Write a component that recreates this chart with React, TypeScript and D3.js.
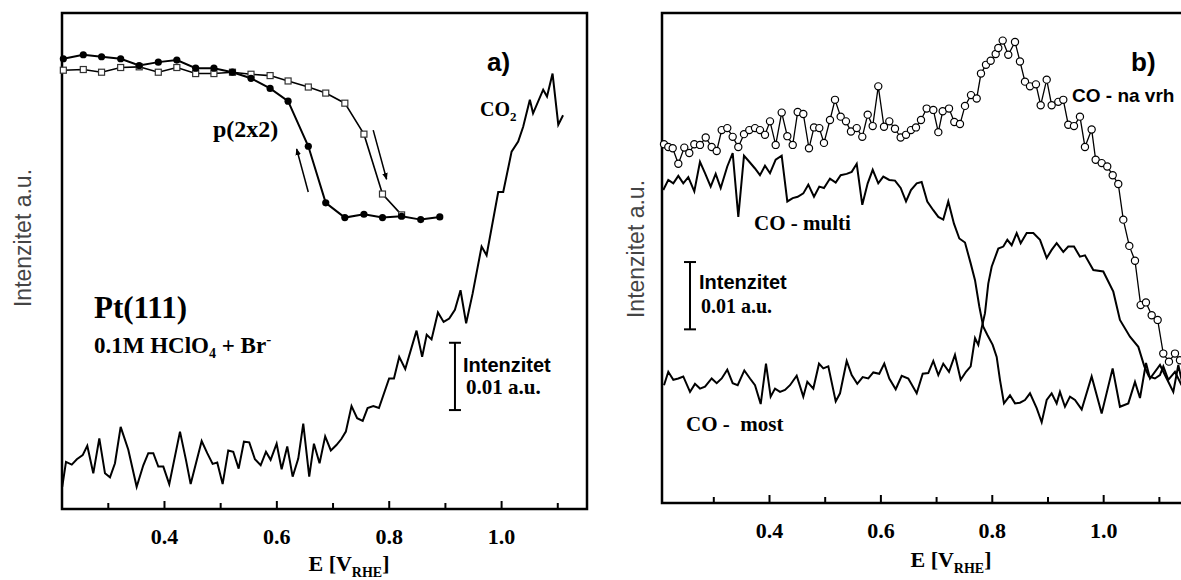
import React from "react";
import * as d3 from "d3";

// ---------- Panel a: CO2 signal ----------
const co2E = [0.218,0.2247,0.235,0.244,0.2544,0.2626,0.2733,0.284,0.2941,0.303,0.3119,0.322,0.3356,0.3505,0.3623,0.3712,0.3801,0.389,0.3979,0.4085,0.4276,0.4382,0.4466,0.4662,0.4761,0.4857,0.4939,0.5035,0.5135,0.5224,0.532,0.5414,0.5509,0.561,0.5712,0.5806,0.5889,0.5996,0.6085,0.6185,0.6281,0.6381,0.647,0.6576,0.666,0.676,0.686,0.6961,0.706,0.7148,0.7228,0.7329,0.7429,0.7528,0.7615,0.7717,0.7817,0.7998,0.8084,0.8178,0.8285,0.8486,0.8586,0.8667,0.8753,0.8867,0.8968,0.9068,0.9169,0.9269,0.9369,0.9484,0.9644,0.9733,0.994,1.0029,1.0178,1.0295,1.0384,1.0503,1.056,1.074,1.0808,1.0907,1.1009,1.1094];
const co2V = [3.3,7.0,6.6,7.4,8.0,9.4,5.3,10.5,5.3,4.7,6.8,12.2,8.8,3.3,6.5,8.3,8.3,6.3,6.3,3.7,11.5,7.3,3.7,10.1,8.3,6.7,6.9,3.7,8.7,8.5,6.0,10.0,9.9,7.4,6.5,8.5,7.3,9.7,5.9,9.3,4.8,7.5,12.7,4.8,9.7,6.8,10.8,8.7,9.5,10.4,11.5,15.3,13.5,13.1,15.0,15.3,15.0,19.4,19.4,22.6,20.8,26.5,22.6,25.9,25.2,29.2,27.8,28.3,29.6,32.5,27.6,32.0,39.0,37.7,47.1,47.1,53.1,54.6,56.8,60.8,58.8,62.3,61.3,64.7,57.1,58.5];

// inset p(2x2) hysteresis
const insetE = [0.220,0.2555,0.288,0.322,0.355,0.389,0.422,0.4555,0.488,0.521,0.554,0.588,0.620,0.656,0.687,0.721,0.755,0.788,0.822,0.856,0.890];
const filledV = [66.9,67.5,67.2,66.9,65.9,66.4,66.7,65.5,65.5,64.9,64.0,62.5,60.6,53.9,45.5,43.3,43.8,43.3,43.5,43.0,43.4];
const openV = [65.2,65.3,64.9,65.6,65.7,64.9,65.6,64.7,64.7,64.9,64.6,64.4,63.6,62.7,61.8,60.3,55.7,46.8,43.7];

// ---------- Panel b ----------
const vrhE = [0.2106,0.2183,0.2262,0.2363,0.247,0.256,0.265,0.2752,0.2855,0.2962,0.3052,0.3142,0.3242,0.3339,0.344,0.3542,0.3637,0.374,0.3829,0.3919,0.4009,0.4111,0.4219,0.432,0.4417,0.4506,0.4607,0.4709,0.4799,0.4894,0.4978,0.5086,0.5176,0.5278,0.5373,0.5463,0.5566,0.5666,0.5763,0.5853,0.5953,0.6056,0.6151,0.6253,0.6355,0.6451,0.654,0.663,0.672,0.6822,0.6941,0.7031,0.711,0.7223,0.7318,0.742,0.751,0.7618,0.772,0.7797,0.7887,0.7971,0.8061,0.8108,0.8187,0.8287,0.8408,0.8497,0.8587,0.8677,0.8784,0.8869,0.8977,0.9066,0.9185,0.9275,0.9364,0.9467,0.9574,0.9664,0.9784,0.9856,0.9964,1.0064,1.0162,1.0262,1.0352,1.046,1.0562,1.0664,1.0759,1.0862,1.0969,1.107,1.1172,1.128,1.137];
const vrhV = [53.3,52.9,52.7,50.4,52.8,52.0,53.3,53.2,54.3,52.9,52.3,55.4,55.7,54.4,52.9,54.8,55.4,55.7,55.4,54.7,56.7,53.2,58.0,54.5,53.2,58.1,57.8,52.7,55.8,55.7,53.5,56.9,59.9,57.4,56.7,55.2,55.7,54.4,57.7,56.0,61.9,55.9,56.7,55.6,54.3,54.7,55.4,55.8,56.9,58.6,58.4,55.1,58.2,58.6,56.6,56.3,59.0,60.6,60.1,63.8,65.1,65.7,66.7,67.6,68.7,66.6,68.5,65.6,62.6,61.9,62.2,59.1,62.9,59.1,59.6,59.9,56.2,56.0,57.4,52.9,55.5,51.0,50.5,50.0,48.7,47.4,42.1,38.2,36.0,29.4,29.8,27.9,27.2,22.2,21.0,22.2,21.2];

const multiE = [0.2093,0.2183,0.2273,0.2363,0.2452,0.2542,0.265,0.2752,0.2842,0.2944,0.3034,0.3124,0.3242,0.3339,0.344,0.3542,0.3637,0.374,0.3829,0.3919,0.4009,0.4111,0.4219,0.432,0.4417,0.4506,0.4607,0.4697,0.4799,0.4894,0.4978,0.5086,0.5189,0.5278,0.5386,0.5476,0.5566,0.5666,0.5763,0.5853,0.5953,0.6043,0.6151,0.6253,0.6355,0.6451,0.654,0.6643,0.6732,0.6833,0.6941,0.7031,0.712,0.721,0.7312,0.7408,0.751,0.7612,0.769,0.7767,0.7838,0.791,0.8007,0.8079,0.8138,0.821,0.8318,0.8408,0.8497,0.8587,0.8677,0.8797,0.8887,0.8977,0.9066,0.9156,0.9215,0.9305,0.9395,0.9485,0.9605,0.9784,0.9964,1.0161,1.0292,1.0442,1.0562,1.0652,1.076,1.0832,1.1011,1.1131,1.125,1.134,1.142];
const multiV = [46.5,48.0,47.5,48.6,47.5,48.4,46.3,50.7,49.0,47.0,48.9,46.8,50.0,52.0,42.5,51.6,50.7,49.7,48.7,50.1,49.0,51.0,51.6,44.8,45.3,45.5,46.0,47.3,45.5,47.0,46.8,48.2,47.6,48.7,48.9,49.2,50.4,44.3,47.5,49.5,47.5,48.5,48.0,47.9,46.8,44.8,46.5,47.5,47.7,44.8,43.5,42.5,42.1,44.8,41.5,39.3,38.7,35.6,33.1,29.2,26.2,25.0,23.5,21.7,18.3,14.8,16.0,14.8,14.9,15.3,16.3,14.1,12.0,15.3,16.3,14.8,16.5,14.3,15.8,15.3,13.9,18.8,13.3,20.0,14.3,14.8,18.0,15.6,20.8,18.5,20.5,18.5,16.5,20.5,17.5];

const mostE = [0.2106,0.2183,0.2273,0.2363,0.2452,0.2573,0.2662,0.2752,0.2842,0.2962,0.3052,0.3142,0.3242,0.3339,0.3429,0.3548,0.365,0.374,0.3842,0.3937,0.4021,0.4099,0.4189,0.4278,0.4368,0.4488,0.4607,0.4679,0.4787,0.4889,0.4966,0.5056,0.5189,0.5266,0.5386,0.5476,0.5576,0.5673,0.5774,0.5864,0.5971,0.6061,0.6151,0.6266,0.6374,0.6492,0.6643,0.6751,0.6851,0.6941,0.7031,0.712,0.7223,0.733,0.7433,0.7528,0.7612,0.769,0.7749,0.7809,0.7869,0.7928,0.7989,0.8108,0.8198,0.827,0.8348,0.8438,0.851,0.8618,0.8737,0.8857,0.8977,0.9066,0.9156,0.9275,0.9364,0.9467,0.9574,0.9664,0.9814,0.9993,1.0173,1.0292,1.0472,1.0622,1.073,1.0812,1.092,1.101,1.1071,1.116,1.128,1.14];
const mostV = [17.5,19.5,18.3,18.5,18.8,16.5,17.7,17.0,17.3,18.5,17.8,18.5,19.8,17.8,17.5,19.7,18.5,17.5,14.7,20.7,15.8,17.0,16.5,16.8,17.5,18.9,15.8,18.0,17.0,20.7,20.0,20.3,15.1,16.3,21.1,19.0,17.7,18.7,18.5,19.4,19.2,20.7,18.5,16.9,18.9,18.5,16.3,19.2,19.3,21.1,19.0,20.7,19.5,22.0,18.3,19.5,20.3,24.5,23.5,26.0,28.2,32.6,35.1,37.8,38.1,39.1,38.3,40.1,38.6,40.1,40.1,39.1,36.4,37.6,38.6,37.3,38.1,38.1,36.6,36.8,34.6,34.4,31.4,27.2,24.7,23.2,20.3,18.8,18.5,19.0,20.3,18.3,19.5,17.5];

const majorTicks = [0.4, 0.6, 0.8, 1.0];
const minorTicks = [0.3, 0.5, 0.7, 0.9, 1.1];
const tickLabels = ["0.4", "0.6", "0.8", "1.0"];

const SERIF = "'Liberation Serif', 'Times New Roman', serif";
const SANS = "'Liberation Sans', Arial, sans-serif";

type Pt = [number, number];

function zip(a: number[], b: number[]): Pt[] {
  return b.map((v, i) => [a[i], v] as Pt);
}

export default function App() {
  const xA = d3.scaleLinear().domain([0.2176, 1.152]).range([62, 587]);
  const yA = d3.scaleLinear().domain([0, 73.7]).range([509, 13]);
  const xB = d3.scaleLinear().domain([0.207, 1.1496]).range([662, 1187]);
  const yB = d3.scaleLinear().domain([0, 72.8]).range([503, 13]);

  const lineA = d3.line<Pt>().x((d) => xA(d[0])).y((d) => yA(d[1]));
  const lineB = d3.line<Pt>().x((d) => xB(d[0])).y((d) => yB(d[1]));

  const co2 = zip(co2E, co2V);
  const filled = zip(insetE, filledV);
  const open = zip(insetE, openV);
  const vrh = zip(vrhE, vrhV);
  const multi = zip(multiE, multiV);
  const most = zip(mostE, mostV);

  const axis = (x: d3.ScaleLinear<number, number>, bottom: number, labelY: number, titleX: number, titleY: number) => (
    <g>
      {majorTicks.map((t) => (
        <line key={"M" + t} x1={x(t)} x2={x(t)} y1={bottom} y2={bottom - 8} stroke="#000" strokeWidth={2} />
      ))}
      {minorTicks.map((t) => (
        <line key={"m" + t} x1={x(t)} x2={x(t)} y1={bottom} y2={bottom - 6} stroke="#000" strokeWidth={2} />
      ))}
      {majorTicks.map((t, i) => (
        <text key={"L" + t} x={x(t)} y={labelY} textAnchor="middle" fontFamily={SERIF} fontWeight="bold" fontSize={22}>
          {tickLabels[i]}
        </text>
      ))}
      <text x={titleX} y={titleY} textAnchor="middle" fontFamily={SERIF} fontWeight="bold" fontSize={22}>
        E [V<tspan dy={6} fontSize={14}>RHE</tspan><tspan dy={-6}>]</tspan>
      </text>
    </g>
  );

  const scaleBar = (x: number, y1: number, y2: number) => (
    <g stroke="#000" strokeWidth={2}>
      <line x1={x} x2={x} y1={y1} y2={y2} />
      <line x1={x - 6} x2={x + 6} y1={y1} y2={y1} />
      <line x1={x - 6} x2={x + 6} y1={y2} y2={y2} />
    </g>
  );

  return (
    <svg width={1181} height={580} style={{ position: "absolute", left: 0, top: 0, background: "#fff" }}>
      <defs>
        <marker id="ah" viewBox="0 0 10 10" refX="9" refY="5" markerWidth="7" markerHeight="9" orient="auto" markerUnits="userSpaceOnUse">
          <path d="M0,1 L10,5 L0,9 Z" fill="#000" />
        </marker>
      </defs>
      <rect x={0} y={0} width={1181} height={580} fill="#fff" />

      {/* ===== Panel a ===== */}
      <text transform="translate(31,238) rotate(-90)" textAnchor="middle" fontFamily={SANS} fontSize={23} fill="#444">
        Intenzitet a.u.
      </text>
      <rect x={62} y={13} width={525} height={496} fill="none" stroke="#000" strokeWidth={2.5} />
      {axis(xA, 509, 544, 349, 571)}

      <path d={lineA(co2) || ""} fill="none" stroke="#000" strokeWidth={2} strokeLinejoin="miter" />

      <path d={lineA(open) || ""} fill="none" stroke="#000" strokeWidth={1.6} />
      <path d={lineA(filled) || ""} fill="none" stroke="#000" strokeWidth={2} />
      {open.map((d, i) => (
        <rect key={"s" + i} x={xA(d[0]) - 3} y={yA(d[1]) - 3} width={6} height={6} fill="#fff" stroke="#333" strokeWidth={1.2} />
      ))}
      {filled.map((d, i) => (
        <circle key={"c" + i} cx={xA(d[0])} cy={yA(d[1])} r={3.6} fill="#000" />
      ))}
      <line x1={xA(0.6559)} y1={yA(47.1)} x2={xA(0.6352)} y2={yA(53.5)} stroke="#000" strokeWidth={1.5} markerEnd="url(#ah)" />
      <line x1={xA(0.7715)} y1={yA(56.3)} x2={xA(0.7953)} y2={yA(49.0)} stroke="#000" strokeWidth={1.5} markerEnd="url(#ah)" />

      <text x={213} y={137} fontFamily={SERIF} fontWeight="bold" fontSize={24}>p(2x2)</text>
      <text x={480} y={116} fontFamily={SERIF} fontWeight="bold" fontSize={20}>
        CO<tspan dy={5} fontSize={13}>2</tspan>
      </text>
      <text x={487} y={71} fontFamily={SANS} fontWeight="bold" fontSize={26}>a)</text>
      <text x={94} y={318} fontFamily={SERIF} fontWeight="bold" fontSize={31}>Pt(111)</text>
      <text x={94} y={353} fontFamily={SERIF} fontWeight="bold" fontSize={23}>
        0.1M HClO<tspan dy={5} fontSize={14}>4</tspan><tspan dy={-5}> + Br</tspan><tspan dy={-9} fontSize={15}>-</tspan>
      </text>
      {scaleBar(xA(0.917), yA(24.7), yA(14.7))}
      <text x={463} y={372} fontFamily={SANS} fontWeight="bold" fontSize={20}>Intenzitet</text>
      <text x={466} y={394} fontFamily={SERIF} fontWeight="bold" fontSize={21}>0.01 a.u.</text>

      {/* ===== Panel b ===== */}
      <text transform="translate(644,249) rotate(-90)" textAnchor="middle" fontFamily={SANS} fontSize={23} fill="#444">
        Intenzitet a.u.
      </text>
      <rect x={662} y={13} width={525} height={490} fill="none" stroke="#000" strokeWidth={2.5} />
      {axis(xB, 503, 538, 951, 567)}

      <path d={lineB(most) || ""} fill="none" stroke="#000" strokeWidth={2} />
      <path d={lineB(multi) || ""} fill="none" stroke="#000" strokeWidth={2} />
      <path d={lineB(vrh) || ""} fill="none" stroke="#000" strokeWidth={1.3} />
      {vrh.map((d, i) => (
        <circle key={"o" + i} cx={xB(d[0])} cy={yB(d[1])} r={3.6} fill="#fff" stroke="#000" strokeWidth={1.2} />
      ))}

      <text x={1131} y={71} fontFamily={SANS} fontWeight="bold" fontSize={26}>b)</text>
      <text x={1072} y={102} fontFamily={SANS} fontWeight="bold" fontSize={19}>CO - na vrh</text>
      <text x={754} y={230} fontFamily={SERIF} fontWeight="bold" fontSize={21}>CO - multi</text>
      <text x={686} y={431} fontFamily={SERIF} fontWeight="bold" fontSize={21} style={{ whiteSpace: "pre" }}>{"CO -  most"}</text>
      {scaleBar(xB(0.2573), yB(35.8), yB(25.8))}
      <text x={699} y={289} fontFamily={SANS} fontWeight="bold" fontSize={20}>Intenzitet</text>
      <text x={701} y={313} fontFamily={SERIF} fontWeight="bold" fontSize={20}>0.01 a.u.</text>
    </svg>
  );
}
